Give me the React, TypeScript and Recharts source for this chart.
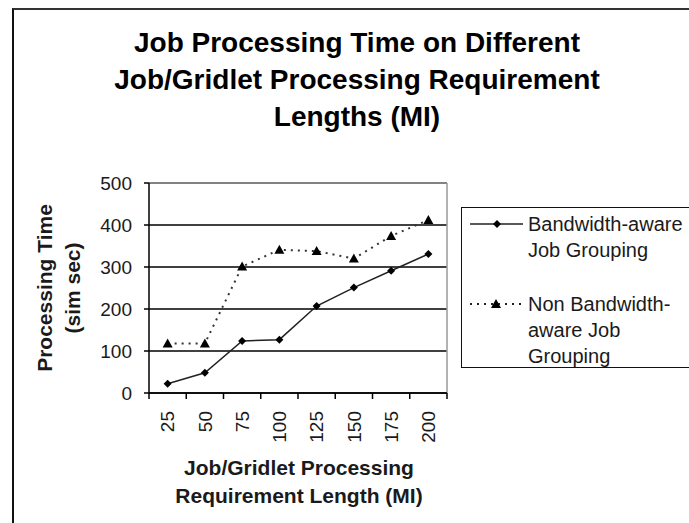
import React from "react";
import {
  LineChart,
  Line,
  XAxis,
  YAxis,
  CartesianGrid,
  ReferenceLine,
  Legend,
} from "recharts";

const lengths = ["25", "50", "75", "100", "125", "150", "175", "200"];
const bandwidthAware = [22, 48, 124, 127, 207, 251, 291, 331];
const nonBandwidthAware = [118, 118, 301, 341, 338, 320, 374, 412];
const yTicks = [0, 100, 200, 300, 400, 500];

const titleLines = [
  "Job Processing Time on Different",
  "Job/Gridlet Processing Requirement",
  "Lengths (MI)",
];
const yTitleLines = ["Processing Time", "(sim sec)"];
const xTitleLines = ["Job/Gridlet Processing", "Requirement Length (MI)"];
const legendItems = [
  { key: "aware", lines: ["Bandwidth-aware", "Job Grouping"] },
  { key: "nonAware", lines: ["Non Bandwidth-", "aware Job", "Grouping"] },
];

const data = lengths.map((len, i) => ({
  len,
  aware: bandwidthAware[i],
  nonAware: nonBandwidthAware[i],
}));

const FONT = '"Liberation Sans", Arial, sans-serif';
const INK = "#1a1a1a";
const TICK_GAP = 18;

const Diamond = ({ cx, cy }: any) => {
  if (cx == null || cy == null) return null;
  const r = 4;
  return (
    <polygon
      points={`${cx},${cy - r} ${cx + r},${cy} ${cx},${cy + r} ${cx - r},${cy}`}
      fill="#000"
    />
  );
};

const Triangle = ({ cx, cy }: any) => {
  if (cx == null || cy == null) return null;
  return (
    <polygon
      points={`${cx},${cy - 5} ${cx + 5},${cy + 4} ${cx - 5},${cy + 4}`}
      fill="#000"
    />
  );
};

// label in the middle of the band, tick marks on the band edges
const CategoryTick = ({ x, y, payload, index, visibleTicksCount }: any) => {
  const half = payload.offset || 0;
  const axisY = y - TICK_GAP;
  const isLast = index === visibleTicksCount - 1;
  return (
    <g>
      <line x1={x - half} y1={axisY} x2={x - half} y2={axisY + 6} stroke="#000" strokeWidth={1.5} />
      {isLast && (
        <line x1={x + half} y1={axisY} x2={x + half} y2={axisY + 6} stroke="#000" strokeWidth={1.5} />
      )}
      <text
        x={x}
        y={y}
        dy="0.36em"
        transform={`rotate(-90, ${x}, ${y})`}
        textAnchor="end"
        fontFamily={FONT}
        fontSize={19}
        fill={INK}
      >
        {payload.value}
      </text>
    </g>
  );
};

const renderLegend = () => (
  <div
    style={{
      position: "relative",
      width: 260,
      height: 161,
      border: "1.5px solid #111",
      boxSizing: "border-box",
      fontFamily: FONT,
      fontSize: 20,
      color: INK,
    }}
  >
    {legendItems.map((item, i) => (
      <div
        key={item.key}
        style={{ position: "absolute", left: 0, top: i === 0 ? 3 : 83 }}
      >
        <svg
          width={60}
          height={26}
          style={{ position: "absolute", left: 6, top: 0 }}
        >
          {i === 0 ? (
            <>
              <line x1={2} y1={13} x2={55} y2={13} stroke="#222" strokeWidth={1.5} />
              <Diamond cx={29} cy={13} />
            </>
          ) : (
            <>
              <line
                x1={2}
                y1={13}
                x2={55}
                y2={13}
                stroke="#222"
                strokeWidth={2}
                strokeDasharray="2 5"
              />
              <Triangle cx={28} cy={13} />
            </>
          )}
        </svg>
        <div
          style={{
            position: "absolute",
            left: 66,
            top: 0,
            lineHeight: "26px",
            whiteSpace: "nowrap",
          }}
        >
          {item.lines.map((l) => (
            <div key={l}>{l}</div>
          ))}
        </div>
      </div>
    ))}
  </div>
);

export default function App() {
  return (
    <div
      style={{
        position: "absolute",
        left: 0,
        top: 0,
        width: 689,
        height: 523,
        overflow: "hidden",
        background: "#fff",
        fontFamily: FONT,
      }}
    >
      {/* outer frame, cut off on the right and bottom like the source */}
      <div
        style={{
          position: "absolute",
          left: 12,
          top: 8,
          width: 720,
          height: 560,
          borderTop: "2px solid #333",
          borderLeft: "2px solid #111",
        }}
      />

      <div
        style={{
          position: "absolute",
          left: 0,
          top: 24,
          width: 714,
          textAlign: "center",
          fontSize: 28,
          fontWeight: "bold",
          lineHeight: "37px",
          color: "#000",
        }}
      >
        {titleLines.map((l) => (
          <div key={l}>{l}</div>
        ))}
      </div>

      <LineChart
        width={689}
        height={523}
        data={data}
        margin={{ top: 183, right: 242, bottom: 0, left: 0 }}
      >
        <CartesianGrid vertical={false} stroke="#000" strokeWidth={1.5} />
        {/* grey plot-area border on the right */}
        <CartesianGrid
          horizontal={false}
          stroke="#999"
          strokeWidth={1.5}
          verticalCoordinatesGenerator={({ offset }: any) => [offset.left + offset.width]}
        />
        <XAxis
          dataKey="len"
          scale="band"
          height={130}
          stroke="#000"
          strokeWidth={1.5}
          tickLine={false}
          tickSize={0}
          tickMargin={TICK_GAP}
          interval={0}
          tick={<CategoryTick />}
        />
        <YAxis
          width={149}
          domain={[0, 500]}
          ticks={yTicks}
          tickSize={5}
          tickMargin={12}
          stroke="#000"
          strokeWidth={1.5}
          tick={{ fontSize: 19, fill: INK, fontFamily: FONT }}
        />
        <ReferenceLine y={500} stroke="#999" strokeWidth={1.5} />
        <Legend
          layout="vertical"
          align="center"
          verticalAlign="middle"
          content={renderLegend}
          wrapperStyle={{ left: 461, top: 207, width: 260, height: 161 }}
        />
        <Line
          dataKey="nonAware"
          stroke="#333"
          strokeWidth={2}
          strokeDasharray="2 5"
          dot={<Triangle />}
          isAnimationActive={false}
        />
        <Line
          dataKey="aware"
          stroke="#222"
          strokeWidth={1.5}
          dot={<Diamond />}
          isAnimationActive={false}
        />
      </LineChart>

      <div
        style={{
          position: "absolute",
          left: -41,
          top: 260,
          width: 200,
          textAlign: "center",
          fontSize: 21,
          fontWeight: "bold",
          lineHeight: "28px",
          color: INK,
          transform: "rotate(-90deg)",
        }}
      >
        {yTitleLines.map((l) => (
          <div key={l}>{l}</div>
        ))}
      </div>

      <div
        style={{
          position: "absolute",
          left: 149,
          top: 454,
          width: 300,
          textAlign: "center",
          fontSize: 21,
          fontWeight: "bold",
          lineHeight: "28px",
          color: INK,
          whiteSpace: "nowrap",
        }}
      >
        {xTitleLines.map((l) => (
          <div key={l}>{l}</div>
        ))}
      </div>
    </div>
  );
}
